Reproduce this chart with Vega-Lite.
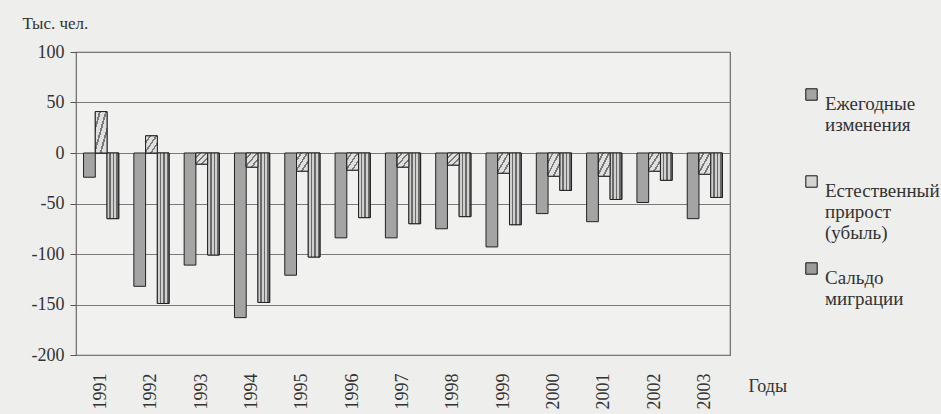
{
  "$schema": "https://vega.github.io/schema/vega-lite/v6.json",
  "width": 654,
  "height": 303,
  "autosize": "none",
  "padding": {"left": 76, "top": 52, "right": 211, "bottom": 59},
  "background": "#eeeeec",
  "config": {
    "view": {"stroke": "#6a6a6a", "strokeWidth": 1.2, "fill": "#f1f1ef"}
  },
  "datasets": {
    "demo": [
      {"year": "1991", "series": "Ежегодные изменения", "value": -24},
      {"year": "1991", "series": "Естественный прирост (убыль)", "value": 41},
      {"year": "1991", "series": "Сальдо миграции", "value": -65},
      {"year": "1992", "series": "Ежегодные изменения", "value": -132},
      {"year": "1992", "series": "Естественный прирост (убыль)", "value": 17},
      {"year": "1992", "series": "Сальдо миграции", "value": -149},
      {"year": "1993", "series": "Ежегодные изменения", "value": -111},
      {"year": "1993", "series": "Естественный прирост (убыль)", "value": -11},
      {"year": "1993", "series": "Сальдо миграции", "value": -101},
      {"year": "1994", "series": "Ежегодные изменения", "value": -163},
      {"year": "1994", "series": "Естественный прирост (убыль)", "value": -14},
      {"year": "1994", "series": "Сальдо миграции", "value": -148},
      {"year": "1995", "series": "Ежегодные изменения", "value": -121},
      {"year": "1995", "series": "Естественный прирост (убыль)", "value": -18},
      {"year": "1995", "series": "Сальдо миграции", "value": -103},
      {"year": "1996", "series": "Ежегодные изменения", "value": -84},
      {"year": "1996", "series": "Естественный прирост (убыль)", "value": -17},
      {"year": "1996", "series": "Сальдо миграции", "value": -64},
      {"year": "1997", "series": "Ежегодные изменения", "value": -84},
      {"year": "1997", "series": "Естественный прирост (убыль)", "value": -14},
      {"year": "1997", "series": "Сальдо миграции", "value": -70},
      {"year": "1998", "series": "Ежегодные изменения", "value": -75},
      {"year": "1998", "series": "Естественный прирост (убыль)", "value": -12},
      {"year": "1998", "series": "Сальдо миграции", "value": -63},
      {"year": "1999", "series": "Ежегодные изменения", "value": -93},
      {"year": "1999", "series": "Естественный прирост (убыль)", "value": -20},
      {"year": "1999", "series": "Сальдо миграции", "value": -71},
      {"year": "2000", "series": "Ежегодные изменения", "value": -60},
      {"year": "2000", "series": "Естественный прирост (убыль)", "value": -23},
      {"year": "2000", "series": "Сальдо миграции", "value": -37},
      {"year": "2001", "series": "Ежегодные изменения", "value": -68},
      {"year": "2001", "series": "Естественный прирост (убыль)", "value": -23},
      {"year": "2001", "series": "Сальдо миграции", "value": -46},
      {"year": "2002", "series": "Ежегодные изменения", "value": -49},
      {"year": "2002", "series": "Естественный прирост (убыль)", "value": -18},
      {"year": "2002", "series": "Сальдо миграции", "value": -27},
      {"year": "2003", "series": "Ежегодные изменения", "value": -65},
      {"year": "2003", "series": "Естественный прирост (убыль)", "value": -21},
      {"year": "2003", "series": "Сальдо миграции", "value": -44}
    ]
  },
  "data": {"name": "demo"},
  "encoding": {
    "x": {
      "field": "year",
      "type": "nominal",
      "scale": {"paddingInner": 0.3, "paddingOuter": 0.15},
      "axis": {
        "labelAngle": -90,
        "labelFont": "Times New Roman",
        "labelFontSize": 18,
        "labelColor": "#333333",
        "labelPadding": 18,
        "ticks": false,
        "domain": false,
        "title": "Годы",
        "titleFont": "Times New Roman",
        "titleFontSize": 18,
        "titleFontWeight": "normal",
        "titleColor": "#333333",
        "titleAngle": 0,
        "titleAlign": "left",
        "titleBaseline": "alphabetic",
        "titleX": 672,
        "titleY": 36
      }
    },
    "xOffset": {
      "field": "series",
      "type": "nominal",
      "scale": {"domain": ["Ежегодные изменения", "Естественный прирост (убыль)", "Сальдо миграции"]}
    },
    "y": {
      "field": "value",
      "type": "quantitative",
      "scale": {"domain": [-200, 100], "nice": false},
      "axis": {
        "values": [-200, -150, -100, -50, 0, 50, 100],
        "labelExpr": "toString(datum.value)",
        "grid": true,
        "gridColor": "#7a7a7a",
        "gridWidth": 1,
        "domain": false,
        "ticks": true,
        "tickSize": 6,
        "tickColor": "#555555",
        "labelFont": "Times New Roman",
        "labelFontSize": 18,
        "labelColor": "#333333",
        "labelPadding": 6,
        "title": "Тыс. чел.",
        "titleFont": "Times New Roman",
        "titleFontSize": 17,
        "titleFontWeight": "normal",
        "titleColor": "#333333",
        "titleAngle": 0,
        "titleAlign": "left",
        "titleBaseline": "alphabetic",
        "titleX": -54,
        "titleY": -24
      }
    }
  },
  "layer": [
    {
      "mark": {"type": "bar", "stroke": "#222222", "strokeWidth": 1},
      "encoding": {
        "color": {
          "field": "series",
          "type": "nominal",
          "scale": {
            "domain": ["Ежегодные изменения", "Естественный прирост (убыль)", "Сальдо миграции"],
            "range": ["#a4a4a4", "#d4d4d4", "#9c9c9c"]
          },
          "legend": {
            "orient": "none",
            "legendX": 726,
            "legendY": 33,
            "title": null,
            "symbolType": "square",
            "symbolSize": 130,
            "symbolStrokeColor": "#111111",
            "symbolStrokeWidth": 1,
            "symbolOpacity": 1,
            "labelFont": "Times New Roman",
            "labelFontSize": 19,
            "labelColor": "#333333",
            "labelLineHeight": 26,
            "labelBaseline": "top",
            "labelOffset": 4,
            "labelLimit": 300,
            "gridAlign": "all",
            "rowPadding": 16,
            "labelExpr": "datum.label == 'Ежегодные изменения' ? ['Ежегодные', 'изменения'] : datum.label == 'Сальдо миграции' ? ['Сальдо', 'миграции'] : ['Естественный', 'прирост', '(убыль)']"
          }
        }
      }
    },
    {
      "transform": [{"filter": "datum.series == 'Сальдо миграции'"}],
      "mark": {
        "type": "bar",
        "stroke": "#222222",
        "strokeWidth": 1,
        "fill": {
          "gradient": "linear",
          "x1": 0, "y1": 0, "x2": 1, "y2": 0,
          "stops": [
            {"offset": 0, "color": "#d0d0d0"},
            {"offset": 0.2, "color": "#d0d0d0"},
            {"offset": 0.2, "color": "#6a6a6a"},
            {"offset": 0.33, "color": "#6a6a6a"},
            {"offset": 0.33, "color": "#d0d0d0"},
            {"offset": 0.5, "color": "#d0d0d0"},
            {"offset": 0.5, "color": "#6a6a6a"},
            {"offset": 0.63, "color": "#6a6a6a"},
            {"offset": 0.63, "color": "#d0d0d0"},
            {"offset": 0.8, "color": "#d0d0d0"},
            {"offset": 0.8, "color": "#6a6a6a"},
            {"offset": 1, "color": "#6a6a6a"}
          ]
        }
      },
      "encoding": {}
    },
    {
      "transform": [{"filter": "datum.series == 'Естественный прирост (убыль)'"}],
      "mark": {
        "type": "bar",
        "stroke": "#222222",
        "strokeWidth": 1,
        "fill": {
          "gradient": "linear",
          "x1": 0, "y1": 0, "x2": 1, "y2": 1,
          "stops": [
            {"offset": 0, "color": "#e0e0e0"},
            {"offset": 0.16, "color": "#e0e0e0"},
            {"offset": 0.16, "color": "#7a7a7a"},
            {"offset": 0.24, "color": "#7a7a7a"},
            {"offset": 0.24, "color": "#e0e0e0"},
            {"offset": 0.42, "color": "#e0e0e0"},
            {"offset": 0.42, "color": "#7a7a7a"},
            {"offset": 0.5, "color": "#7a7a7a"},
            {"offset": 0.5, "color": "#e0e0e0"},
            {"offset": 0.68, "color": "#e0e0e0"},
            {"offset": 0.68, "color": "#7a7a7a"},
            {"offset": 0.76, "color": "#7a7a7a"},
            {"offset": 0.76, "color": "#e0e0e0"},
            {"offset": 1, "color": "#e0e0e0"}
          ]
        }
      },
      "encoding": {}
    }
  ]
}
